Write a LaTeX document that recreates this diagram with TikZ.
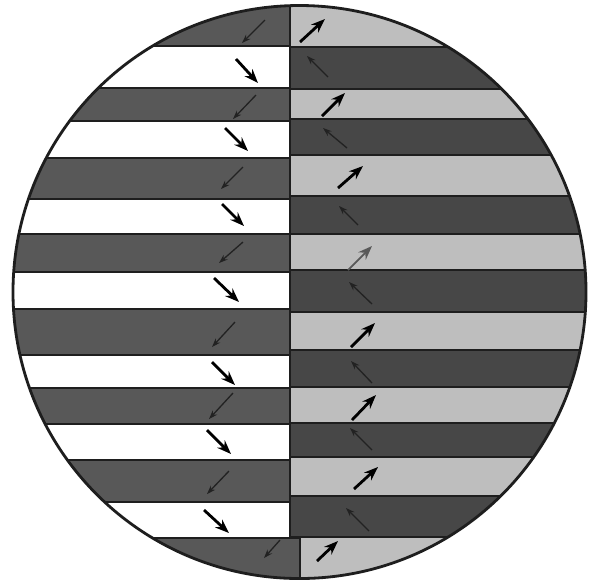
\documentclass[tikz,border=0pt]{standalone}
\usetikzlibrary{arrows.meta}
\definecolor{leftgray}{HTML}{585858}
\definecolor{rightgray}{HTML}{474747}
\definecolor{palegray}{HTML}{BEBEBE}
\definecolor{rim}{HTML}{1E1E1E}
\definecolor{faint}{HTML}{222222}

\begin{document}
\begin{tikzpicture}[x=0.02cm,y=-0.02cm,
  band/.style={draw=rim,line width=0.9pt},
  finearrow/.style={-{Stealth[length=5pt,width=3.5pt]},line width=0.75pt,faint},
  heavyarrow/.style={-{Stealth[length=8pt,width=6pt]},line width=1.6pt,black}]
\useasboundingbox (0,0) rectangle (590,583);
\begin{scope}
\clip (299.5,292) circle (286.5);
% right half
\foreach \ya/\yb/\col in {-10/47/palegray,47/89/rightgray,89/119/palegray,119/155/rightgray,
  155/196/palegray,196/234/rightgray,234/270/palegray,270/312/rightgray,312/350/palegray,
  350/387/rightgray,387/423/palegray,423/457/rightgray,457/496/palegray,496/537/rightgray,537/600/palegray}
  \filldraw[band,fill=\col] (290,\ya) rectangle (600,\yb);
% left half
\foreach \ya/\yb/\col in {-10/46/leftgray,46/88/white,88/121/leftgray,121/158/white,
  158/199/leftgray,199/234/white,234/272/leftgray,272/309/white,309/355/leftgray,
  355/388/white,388/424/leftgray,424/460/white,460/502/leftgray,502/538/white}
  \filldraw[band,fill=\col] (-10,\ya) rectangle (290,\yb);
\filldraw[band,fill=leftgray] (-10,538) rectangle (300,600);
\end{scope}
\draw[rim,line width=1.6pt] (299.5,292) circle (286.5);
% arrows, left
\foreach \xa/\ya/\xb/\yb in {265/20/242/43,256/95/233/119,243/167/221/189,243/242/219/263,
  235/322/212/347,233/393/209/419,229/471/207/494,280/540/264/558}
  \draw[finearrow] (\xa,\ya) -- (\xb,\yb);
\foreach \xa/\ya/\xb/\yb in {236/59/258/83,225/128/248/151,222/204/244/226,214/278/239/302,
  212/362/235/385,207/430/231/454,204/510/229/533}
  \draw[heavyarrow] (\xa,\ya) -- (\xb,\yb);
% arrows, right
\foreach \xa/\ya/\xb/\yb in {300/42/325/19,322/116/345/93,338/188/363/166,351/347/375/323,
  352/420/376/395,354/489/378/467,317/561/338/541}
  \draw[heavyarrow] (\xa,\ya) -- (\xb,\yb);
\draw[heavyarrow,line width=1pt,black!65] (348,270) -- (372,246);
\foreach \xa/\ya/\xb/\yb in {328/77/307/56,347/148/323/128,358/225/339/206,372/304/349/282,
  372/383/351/361,372/450/350/428,369/531/346/508}
  \draw[finearrow] (\xa,\ya) -- (\xb,\yb);
\end{tikzpicture}
\end{document}
